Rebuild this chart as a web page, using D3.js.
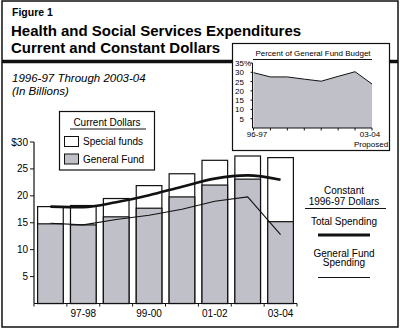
<!DOCTYPE html>
<html>
<head>
<meta charset="utf-8">
<script src="https://cdn.jsdelivr.net/npm/d3@7"></script>
<style>
  body { margin: 0; background: #fff; }
  svg { display: block; font-family: "Liberation Sans", Arial, Helvetica, sans-serif; }
</style>
</head>
<body>
<svg id="chart" width="400" height="329"></svg>
<script>
const years = ["96-97", "97-98", "98-99", "99-00", "00-01", "01-02", "02-03", "03-04"];
const xLabels = ["97-98", "99-00", "01-02", "03-04"];
const totalCurrent = [18.0, 18.2, 19.5, 21.9, 24.1, 26.6, 27.4, 27.1];
const generalFund = [14.8, 14.6, 16.1, 17.7, 19.8, 22.0, 23.1, 15.2];
const constantTotal = [18.0, 17.9, 18.8, 20.1, 21.7, 23.2, 23.8, 23.0];
const constantGF = [14.9, 14.6, 15.6, 16.4, 17.5, 19.0, 19.8, 12.8];
const yTicks = [5, 10, 15, 20, 25, 30];
const gfShare = [29.8, 27.5, 27.5, 26.3, 25.2, 27.8, 30.3, 23.7];
const insetTicks = [5, 10, 15, 20, 25, 30, 35];

const grey = "#bfc0c8";
const svg = d3.select("#chart");

// frame + heading
svg.append("rect").attr("x", 2).attr("y", 1).attr("width", 396).attr("height", 326)
    .style("fill", "none").style("stroke", "#111").style("stroke-width", 1.5);
svg.append("text").text("Figure 1").attr("x", 12).attr("y", 16)
    .style("font-size", "10.5px").style("font-weight", "bold");
svg.append("text").text("Health and Social Services Expenditures").attr("x", 11).attr("y", 36)
    .style("font-size", "15px").style("font-weight", "bold");
svg.append("text").text("Current and Constant Dollars").attr("x", 11).attr("y", 53)
    .style("font-size", "15px").style("font-weight", "bold");
svg.append("line").attr("x1", 2).attr("x2", 398).attr("y1", 61.5).attr("y2", 61.5)
    .style("stroke", "#111").style("stroke-width", 3.5);
svg.append("text").text("1996-97 Through 2003-04").attr("x", 12).attr("y", 82)
    .style("font-size", "11.5px").style("font-style", "italic");
svg.append("text").text("(In Billions)").attr("x", 12).attr("y", 94.5)
    .style("font-size", "11.5px").style("font-style", "italic");

// main chart
const x = d3.scaleBand().domain(years).range([34, 297]).paddingInner(0.22).paddingOuter(0.11);
const y = d3.scaleLinear().domain([0, 30]).range([303.5, 142]);
const g = svg.append("g");

g.selectAll(".tot").data(years).join("rect")
    .attr("x", d => x(d)).attr("width", x.bandwidth())
    .attr("y", (d, i) => y(totalCurrent[i])).attr("height", (d, i) => y(0) - y(totalCurrent[i]))
    .style("fill", "#fff").style("stroke", "#111").style("stroke-width", 1.2);
g.selectAll(".gf").data(years).join("rect")
    .attr("x", d => x(d)).attr("width", x.bandwidth())
    .attr("y", (d, i) => y(generalFund[i])).attr("height", (d, i) => y(0) - y(generalFund[i]))
    .style("fill", grey).style("stroke", "#111").style("stroke-width", 1.2);

const cx = d => x(d) + x.bandwidth() / 2;
g.append("path").datum(years)
    .attr("d", d3.line().x(cx).y((d, i) => y(constantTotal[i])).curve(d3.curveMonotoneX))
    .style("fill", "none").style("stroke", "#111").style("stroke-width", 2.6);
g.append("path").datum(years)
    .attr("d", d3.line().x(cx).y((d, i) => y(constantGF[i])))
    .style("fill", "none").style("stroke", "#111").style("stroke-width", 1.1);

// axes
g.append("line").attr("x1", 34).attr("x2", 34).attr("y1", y(30)).attr("y2", y(0))
    .style("stroke", "#111").style("stroke-width", 1.2);
g.append("line").attr("x1", 34).attr("x2", 297).attr("y1", y(0)).attr("y2", y(0))
    .style("stroke", "#111").style("stroke-width", 1.2);
g.selectAll(".yt").data(yTicks).join("line")
    .attr("x1", 30).attr("x2", 34).attr("y1", d => y(d)).attr("y2", d => y(d))
    .style("stroke", "#111");
g.selectAll(".yl").data(yTicks).join("text")
    .text(d => d === 30 ? "$30" : d)
    .attr("x", 28).attr("y", d => y(d) + 3.5).attr("text-anchor", "end")
    .style("font-size", "10px");
const bounds = years.map(d => x(d) - x.step() * x.paddingInner() / 2).concat([297]);
g.selectAll(".xt").data(bounds).join("line")
    .attr("x1", d => d).attr("x2", d => d).attr("y1", y(0)).attr("y2", y(0) + 3)
    .style("stroke", "#111");
g.selectAll(".xl").data(xLabels).join("text")
    .text(d => d).attr("x", d => cx(d)).attr("y", 317).attr("text-anchor", "middle")
    .style("font-size", "10px");

// current dollars legend
const lg = svg.append("g");
lg.append("rect").attr("x", 59.5).attr("y", 111.5).attr("width", 95).attr("height", 58.5)
    .style("fill", "#fff").style("stroke", "#111").style("stroke-width", 1.2);
lg.append("text").text("Current Dollars").attr("x", 107).attr("y", 126).attr("text-anchor", "middle")
    .style("font-size", "10px");
lg.append("line").attr("x1", 70).attr("x2", 146).attr("y1", 129).attr("y2", 129).style("stroke", "#111");
lg.append("rect").attr("x", 64.5).attr("y", 136.5).attr("width", 14).attr("height", 10)
    .style("fill", "#fff").style("stroke", "#111");
lg.append("text").text("Special funds").attr("x", 83).attr("y", 145).style("font-size", "10px");
lg.append("rect").attr("x", 64.5).attr("y", 154).attr("width", 14).attr("height", 10)
    .style("fill", grey).style("stroke", "#111");
lg.append("text").text("General Fund").attr("x", 83).attr("y", 162.5).style("font-size", "10px");

// constant dollars legend
const rg = svg.append("g").style("font-size", "10px").attr("text-anchor", "middle");
rg.append("text").text("Constant").attr("x", 344).attr("y", 194);
rg.append("text").text("1996-97 Dollars").attr("x", 344).attr("y", 204.5);
rg.append("line").attr("x1", 305).attr("x2", 386).attr("y1", 208.5).attr("y2", 208.5).style("stroke", "#111");
rg.append("text").text("Total Spending").attr("x", 344).attr("y", 225);
rg.append("line").attr("x1", 318).attr("x2", 370).attr("y1", 235).attr("y2", 235)
    .style("stroke", "#111").style("stroke-width", 3);
rg.append("text").text("General Fund").attr("x", 344).attr("y", 256.5);
rg.append("text").text("Spending").attr("x", 344).attr("y", 266);
rg.append("line").attr("x1", 318).attr("x2", 370).attr("y1", 277.5).attr("y2", 277.5).style("stroke", "#111");

// inset: percent of general fund budget
const ig = svg.append("g");
ig.append("rect").attr("x", 232.5).attr("y", 43.5).attr("width", 157).attr("height", 107)
    .style("fill", "#fff").style("stroke", "#111").style("stroke-width", 1.2);
ig.append("text").text("Percent of General Fund Budget").attr("x", 313).attr("y", 56)
    .attr("text-anchor", "middle").style("font-size", "8px");
ig.append("line").attr("x1", 253).attr("x2", 372).attr("y1", 59.5).attr("y2", 59.5).style("stroke", "#111");
const ix = d3.scalePoint().domain(years).range([253.5, 372]);
const iy = d3.scaleLinear().domain([0, 35]).range([128, 63]);
ig.append("path").datum(years)
    .attr("d", d3.area().x(d => ix(d)).y0(iy(0)).y1((d, i) => iy(gfShare[i])))
    .style("fill", grey);
ig.append("path").datum(years)
    .attr("d", d3.line().x(d => ix(d)).y((d, i) => iy(gfShare[i])))
    .style("fill", "none").style("stroke", "#111").style("stroke-width", 1);
ig.append("line").attr("x1", 252.5).attr("x2", 252.5).attr("y1", iy(35)).attr("y2", iy(0)).style("stroke", "#111");
ig.append("line").attr("x1", 252.5).attr("x2", 372).attr("y1", iy(0)).attr("y2", iy(0)).style("stroke", "#111");
ig.selectAll(".it").data(insetTicks).join("line")
    .attr("x1", 250.5).attr("x2", 252.5).attr("y1", d => iy(d)).attr("y2", d => iy(d)).style("stroke", "#111");
ig.selectAll(".il").data(insetTicks).join("text")
    .text(d => d).attr("x", 244).attr("y", d => iy(d) + 3).attr("text-anchor", "end")
    .style("font-size", "8px");
ig.append("text").text("%").attr("x", 244).attr("y", iy(35) + 3).style("font-size", "8px");
ig.selectAll(".ixt").data(years).join("line")
    .attr("x1", d => ix(d)).attr("x2", d => ix(d)).attr("y1", iy(0)).attr("y2", iy(0) + 2.5).style("stroke", "#111");
ig.append("text").text("96-97").attr("x", 257).attr("y", 137).attr("text-anchor", "middle").style("font-size", "8px");
ig.append("text").text("03-04").attr("x", 370).attr("y", 137).attr("text-anchor", "middle").style("font-size", "8px");
ig.append("text").text("Proposed").attr("x", 371).attr("y", 146.5).attr("text-anchor", "middle").style("font-size", "8px");
</script>
</body>
</html>
